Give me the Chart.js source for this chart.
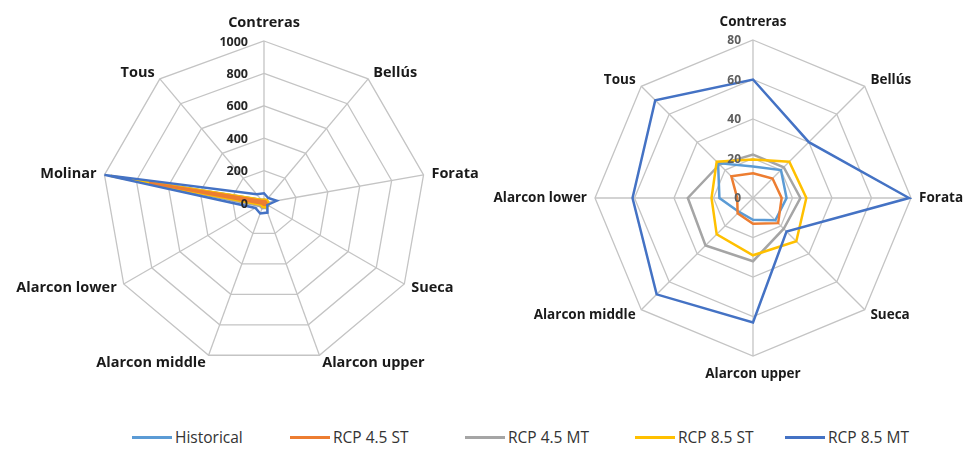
<!DOCTYPE html>
<html>
<head>
<meta charset="utf-8">
<script src="https://cdn.jsdelivr.net/npm/chart.js@4"></script>
<style>
  body { margin: 0; background: #fff; }
  #wrap { position: relative; width: 963px; height: 472px; }
  #left { position: absolute; left: 0; top: 0; }
  #right { position: absolute; left: 482px; top: 0; }
  .leg { position: absolute; top: 426px; font: 15.5px "Open Sans", sans-serif; color: #333; white-space: nowrap; }
  .leg span { display: inline-block; width: 40px; height: 3px; vertical-align: middle; margin-right: 3px; position: relative; top: -1px; }
</style>
</head>
<body>
<div id="wrap">
  <canvas id="left" width="480" height="400"></canvas>
  <canvas id="right" width="481" height="400"></canvas>
  <div id="legenda"></div>
</div>
<script>
// estações (eixos) de cada gráfico
const estacoesEsq = ['Contreras', 'Bellús', 'Forata', 'Sueca', 'Alarcon upper', 'Alarcon middle', 'Alarcon lower', 'Molinar', 'Tous'];
const estacoesDir = ['Contreras', 'Bellús', 'Forata', 'Sueca', 'Alarcon upper', 'Alarcon middle', 'Alarcon lower', 'Tous'];

const nomesSeries = ['Historical', 'RCP 4.5 ST', 'RCP 4.5 MT', 'RCP 8.5 ST', 'RCP 8.5 MT'];
const coresSeries = ['#5B9BD5', '#ED7D31', '#A5A5A5', '#FFC000', '#4472C4'];

// valores do gráfico da esquerda (com Molinar)
const historicoEsq = [16, 20, 17, 16, 11, 10, 17, 900, 25];
const rcp45stEsq   = [12.5, 14, 14.5, 18, 13, 11, 8, 720, 15.5];
const rcp45mtEsq   = [22, 22, 24, 22, 32, 34, 33, 920, 24];
const rcp85stEsq   = [19.5, 26, 27, 31, 29, 26, 21, 960, 26];
const rcp85mtEsq   = [60, 40, 79, 24, 63, 69, 61, 1000, 70];

// valores do gráfico da direita (sem Molinar)
const historicoDir = [16, 20, 17, 16, 11, 10, 17, 25];
const rcp45stDir   = [12.5, 14, 14.5, 18, 13, 11, 8, 15.5];
const rcp45mtDir   = [22, 22, 24, 22, 32, 34, 33, 24];
const rcp85stDir   = [19.5, 26, 27, 31, 29, 26, 21, 26];
const rcp85mtDir   = [60, 40, 79, 24, 63, 69, 61, 70];

// escalas
const ticksEsq = [0, 200, 400, 600, 800, 1000];
const ticksDir = [0, 20, 40, 60, 80];

// plugin que escreve os rótulos do eixo (à esquerda da linha vertical, como no Excel)
// e os nomes das estações em volta do radar
const rotulosRadar = {
    id: 'rotulosRadar',
    afterDatasetsDraw(chart, args, opts) {
        const esc = chart.scales.r;
        const ctx = chart.ctx;
        ctx.save();
        // valores do eixo
        ctx.font = opts.fonteTick;
        ctx.fillStyle = opts.corTick;
        ctx.textAlign = 'right';
        ctx.textBaseline = 'middle';
        opts.valores.forEach((v) => {
            const d = esc.getDistanceFromCenterForValue(v);
            ctx.fillText(String(v), esc.xCenter - opts.desloc, esc.yCenter - d + 1);
        });
        // nomes das estações
        ctx.font = opts.fonteLabel;
        ctx.fillStyle = '#1a1a1a';
        const n = chart.data.labels.length;
        chart.data.labels.forEach((nome, i) => {
            const ang = (i / n) * Math.PI * 2;
            const s = Math.sin(ang), c = Math.cos(ang);
            let dist = esc.drawingArea + 8;
            if (Math.abs(c) > 0.98) dist += 10; // topo e base ficam um pouco mais afastados
            const p = esc.getPointPosition(i, dist);
            ctx.textAlign = Math.abs(s) < 0.05 ? 'center' : (s > 0 ? 'left' : 'right');
            ctx.fillText(nome, p.x, p.y);
        });
        ctx.restore();
    }
};

const criarRadar = (id, labels, series, preenchidas, max, passo, ticks, opcoes) => {
    const ctx = document.getElementById(id).getContext('2d');
    new Chart(ctx, {
        type: 'radar',
        data: {
            labels: labels,
            datasets: series.map((dados, i) => ({
                label: nomesSeries[i],
                data: dados,
                borderColor: coresSeries[i],
                backgroundColor: preenchidas[i] ? preenchidas[i] : 'transparent',
                fill: !!preenchidas[i],
                borderWidth: 2.5,
                pointRadius: 0,
                order: [3, 1, 4, 2, 0][i], // azul escura por cima, cinza por baixo
            })),
        },
        options: {
            responsive: false,
            animation: false,
            layout: { padding: opcoes.padding },
            plugins: {
                legend: { display: false },
                tooltip: { enabled: false },
                rotulosRadar: {
                    valores: ticks, fonteTick: opcoes.fonteTick, corTick: opcoes.corTick,
                    desloc: opcoes.desloc, fonteLabel: opcoes.fonteLabel,
                },
            },
            scales: {
                r: {
                    min: 0,
                    max: max,
                    ticks: { stepSize: passo, display: false },
                    grid: { color: '#c4c4c4', lineWidth: 1.3 },
                    angleLines: { color: '#c4c4c4', lineWidth: 1.3 },
                    pointLabels: { display: false },
                },
            },
        },
        plugins: [rotulosRadar],
    });
};

criarRadar('left', estacoesEsq,
    [historicoEsq, rcp45stEsq, rcp45mtEsq, rcp85stEsq, rcp85mtEsq],
    [null, 'rgba(237,125,49,0.9)', null, 'rgba(250,184,0,0.95)', null],
    1000, 200, ticksEsq,
    { padding: { top: 41, left: 102, right: 54, bottom: 35 },
      fonteLabel: 'bold 14.5px "Open Sans"',
      fonteTick: 'bold 12.5px "Open Sans"', corTick: '#262626', desloc: 16 });

criarRadar('right', estacoesDir,
    [historicoDir, rcp45stDir, rcp45mtDir, rcp85stDir, rcp85mtDir],
    [null, null, null, null, null],
    80, 20, ticksDir,
    { padding: { top: 40, left: 113, right: 52, bottom: 44 },
      fonteLabel: 'bold 13.5px "Open Sans"',
      fonteTick: 'bold 12px "Open Sans"', corTick: '#5e5e5e', desloc: 12 });

// legenda comum, embaixo dos dois gráficos
const posLegenda = [132, 290, 465, 635, 785];
const legenda = document.getElementById('legenda');
nomesSeries.forEach((nome, i) => {
    const item = document.createElement('div');
    item.className = 'leg';
    item.style.left = posLegenda[i] + 'px';
    item.innerHTML = '<span style="background:' + coresSeries[i] + '"></span>' + nome;
    legenda.appendChild(item);
});
</script>
</body>
</html>
